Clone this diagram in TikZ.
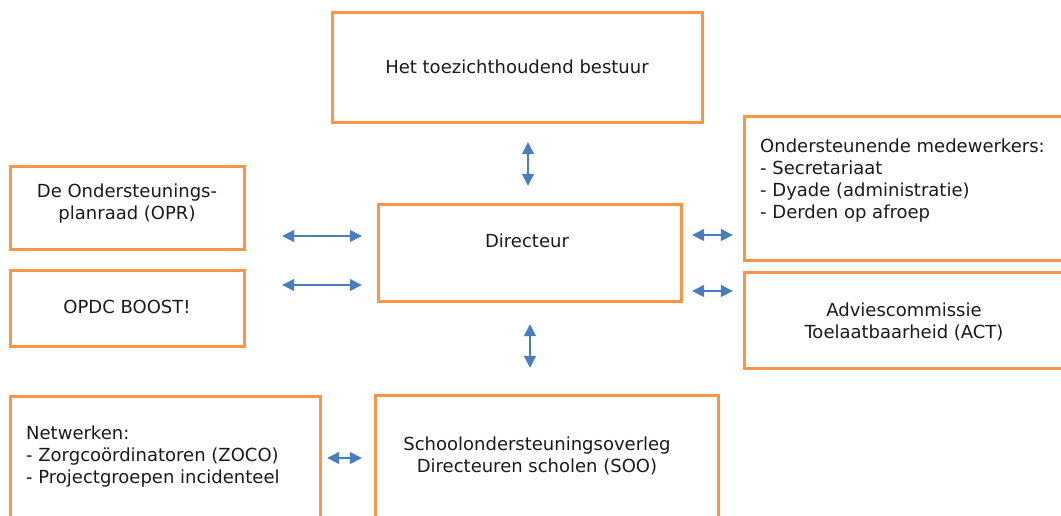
\documentclass[tikz,border=0pt]{standalone}
\usepackage{fontspec}
\setmainfont{DejaVu Sans}
\usetikzlibrary{arrows.meta}
\definecolor{boxor}{HTML}{F79646}
\definecolor{arrbl}{HTML}{4A7EBB}
\definecolor{txt}{HTML}{1A1A1A}
\begin{document}
\begin{tikzpicture}[x=1pt,y=-1pt,
  box/.style={draw=boxor,line width=3pt,rectangle,inner sep=0pt},
  lbl/.style={text=txt,font=\fontsize{18}{22}\selectfont,inner sep=0pt},
  arr/.style={draw=arrbl,line width=1.4pt,{Triangle[length=12pt,width=12pt]}-{Triangle[length=12pt,width=12pt]}}]
\useasboundingbox (0,0) rectangle (1061,515);
\clip (0,0) rectangle (1061,515);
% boxes
\draw[box] (332,12) rectangle (702,122);
\draw[box] (10,166) rectangle (244,249);
\draw[box] (10,270) rectangle (244,346);
\draw[box] (378,204) rectangle (681,301);
\draw[box] (744,116) rectangle (1064,260);
\draw[box] (744,272) rectangle (1064,368);
\draw[box] (10,396) rectangle (320,530);
\draw[box] (375,395) rectangle (718,530);
% named anchor nodes
\node[inner sep=0pt,minimum width=370pt,minimum height=110pt] (top) at (517,67) {};
\node[inner sep=0pt,minimum width=234pt,minimum height=83pt] (opr) at (127,207.5) {};
\node[inner sep=0pt,minimum width=234pt,minimum height=76pt] (opdc) at (127,308) {};
\node[inner sep=0pt,minimum width=303pt,minimum height=97pt] (dir) at (529.5,252.5) {};
\node[inner sep=0pt,minimum width=320pt,minimum height=144pt] (ow) at (904,188) {};
\node[inner sep=0pt,minimum width=320pt,minimum height=96pt] (act) at (904,320) {};
\node[inner sep=0pt,minimum width=310pt,minimum height=134pt] (net) at (165,463) {};
\node[inner sep=0pt,minimum width=343pt,minimum height=135pt] (soo) at (546.5,462.5) {};
% texts
\node[lbl] (ttop) at (517,67) {Het toezichthoudend bestuur};
\node[lbl,align=center] (topr) at (127,204) {De Ondersteunings-\\planraad (OPR)};
\node[lbl] (topdc) at (127,307) {OPDC BOOST!};
\node[lbl] (tdir) at (527,241) {Directeur};
\node[lbl,align=left,anchor=west] (tow) at (760,181) {Ondersteunende medewerkers:\\- Secretariaat\\- Dyade (administratie)\\- Derden op afroep};
\node[lbl,align=center] (tact) at (904,322) {Adviescommissie\\Toelaatbaarheid (ACT)};
\node[lbl,align=left,anchor=west] (tnet) at (26,457) {Netwerken:\\- Zorgcoördinatoren (ZOCO)\\- Projectgroepen incidenteel};
\node[lbl,align=center] (tsoo) at (537,456) {Schoolondersteuningsoverleg\\Directeuren scholen (SOO)};
% connectors
\draw[arr,shorten <=38pt,shorten >=16pt] (opr.east|-0,236) -- (dir.west|-0,236);
\draw[arr,shorten <=38pt,shorten >=16pt] (opdc.east|-0,285) -- (dir.west|-0,285);
\draw[arr,shorten <=11pt,shorten >=11pt] (dir.east|-0,235) -- (ow.west|-0,235);
\draw[arr,shorten <=11pt,shorten >=11pt] (dir.east|-0,291) -- (act.west|-0,291);
\draw[arr,shorten <=20pt,shorten >=18pt] (top.south-|528,0) -- (dir.north-|528,0);
\draw[arr,shorten <=23pt,shorten >=27pt] (dir.south-|530,0) -- (soo.north-|530,0);
\draw[arr,shorten <=7pt,shorten >=13pt] (net.east|-0,458) -- (soo.west|-0,458);
\end{tikzpicture}
\end{document}
